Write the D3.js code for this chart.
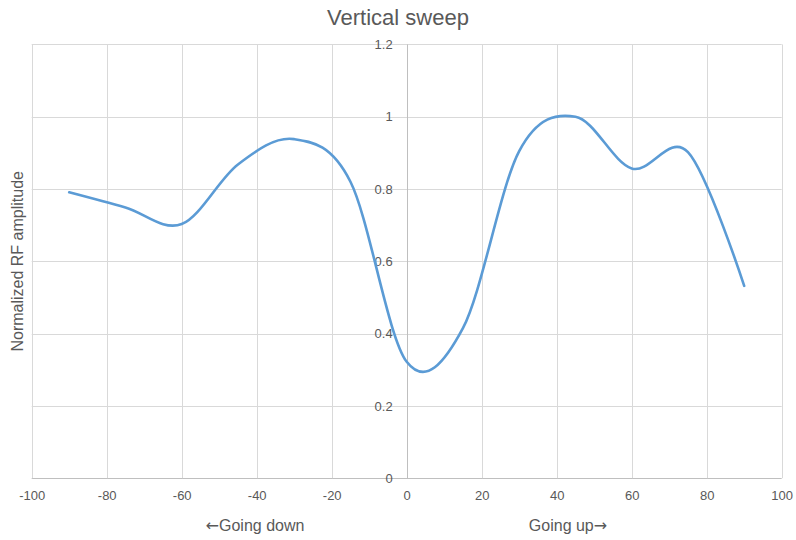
<!DOCTYPE html>
<html>
<head>
<meta charset="utf-8">
<script src="https://cdn.jsdelivr.net/npm/d3@7"></script>
<style>
  html, body { margin: 0; padding: 0; background: #fff; }
  svg { display: block; }
  text { font-family: "Liberation Sans", Arial, sans-serif; fill: #595959; }
</style>
</head>
<body>
<svg id="chart" width="796" height="540"></svg>
<script>
// ---- data ----
const angles = [-90, -75, -60, -45, -30, -15, 0, 15, 30, 45, 60, 75, 90];
const amplitude = [0.791, 0.749, 0.703, 0.868, 0.938, 0.82, 0.322, 0.415, 0.905, 1.0, 0.857, 0.902, 0.532];
const xTicks = [-100, -80, -60, -40, -20, 0, 20, 40, 60, 80, 100];
const yTicks = [0, 0.2, 0.4, 0.6, 0.8, 1, 1.2];
const chartTitle = "Vertical sweep";
const yTitle = "Normalized RF amplitude";
const arrowLeft = "\u2190", labelLeft = "Going down";
const labelRight = "Going up", arrowRight = "\u2192";

const svg = d3.select("#chart");
const x = d3.scaleLinear().domain([-100, 100]).range([31.7, 781.7]);
const y = d3.scaleLinear().domain([0, 1.2]).range([478.2, 44.4]);
const FONT = "'Liberation Sans', Arial, sans-serif";

// gridlines
svg.append("g").selectAll("line").data(yTicks).join("line")
  .attr("x1", x(-100)).attr("x2", x(100))
  .attr("y1", d => Math.round(y(d)) + 0.5).attr("y2", d => Math.round(y(d)) + 0.5)
  .attr("stroke", d => d === 0 ? "#bfbfbf" : "#d9d9d9").attr("stroke-width", 1);
svg.append("g").selectAll("line").data(xTicks).join("line")
  .attr("y1", y(0)).attr("y2", y(1.2))
  .attr("x1", d => Math.round(x(d)) + 0.5).attr("x2", d => Math.round(x(d)) + 0.5)
  .attr("stroke", d => d === 0 ? "#bfbfbf" : "#d9d9d9").attr("stroke-width", 1);

// x axis labels
const xAxis = d3.axisBottom(x).tickValues(xTicks).tickSize(0).tickPadding(13).tickFormat(d => String(d));
const gx = svg.append("g").attr("transform", `translate(0,${y(0)})`).call(xAxis);
gx.select(".domain").remove();
gx.selectAll("text").style("font-size", "13px").attr("fill", "#595959").style("font-family", FONT);

// y axis labels (at x = 0)
const yAxis = d3.axisLeft(y).tickValues(yTicks).tickSize(0).tickPadding(14).tickFormat(d => String(+d.toFixed(1)));
const gy = svg.append("g").attr("transform", `translate(${x(0)},0)`).call(yAxis);
gy.select(".domain").remove();
gy.selectAll("text").style("font-size", "13px").attr("fill", "#595959").style("font-family", FONT);

// line
const line = d3.line().x((d, i) => x(angles[i])).y(d => y(d)).curve(d3.curveCatmullRom.alpha(0));
svg.append("path").datum(amplitude).attr("d", line)
  .attr("fill", "none").attr("stroke", "#5b9bd5").attr("stroke-width", 2.6)
  .attr("stroke-linecap", "round").attr("stroke-linejoin", "round");

// titles
svg.append("text").attr("x", 398).attr("y", 25).attr("text-anchor", "middle")
  .style("font-size", "22px").text(chartTitle);
svg.append("text").attr("transform", `translate(23,${(y(0) + y(1.2)) / 2}) rotate(-90)`)
  .attr("text-anchor", "middle").style("font-size", "16px").text(yTitle);
const tl = svg.append("text").attr("x", 255).attr("y", 531).attr("text-anchor", "middle").style("font-size", "16px");
tl.append("tspan").style("font-family", "'DejaVu Sans', sans-serif").text(arrowLeft);
tl.append("tspan").text(labelLeft);
const tr = svg.append("text").attr("x", 568).attr("y", 531).attr("text-anchor", "middle").style("font-size", "16px");
tr.append("tspan").text(labelRight);
tr.append("tspan").style("font-family", "'DejaVu Sans', sans-serif").text(arrowRight);
</script>
</body>
</html>
